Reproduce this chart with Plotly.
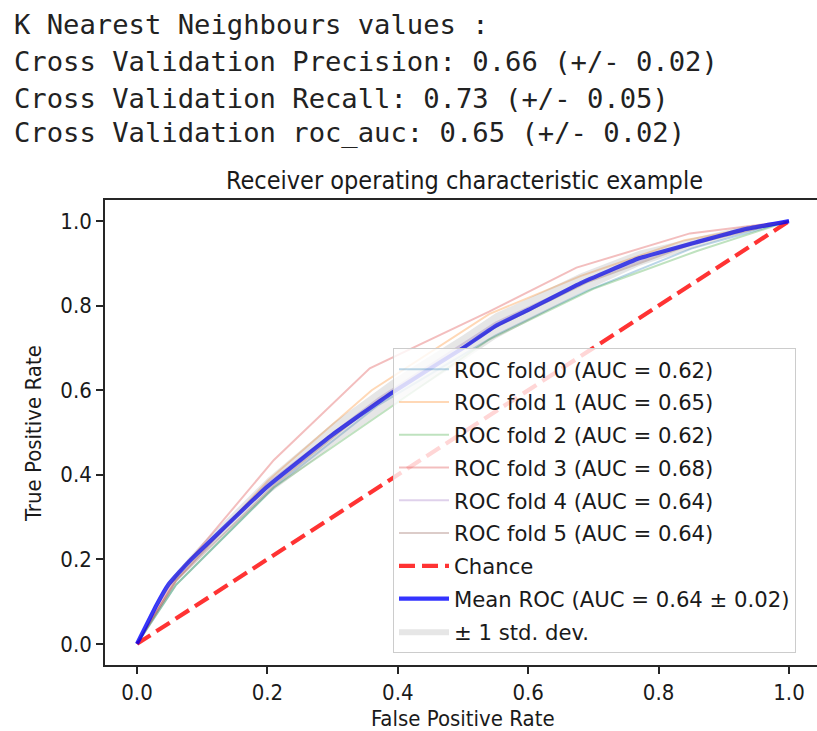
import plotly.graph_objects as go

# ---- data ----
header_lines = [
    "K Nearest Neighbours values :",
    "Cross Validation Precision: 0.66 (+/- 0.02)",
    "Cross Validation Recall: 0.73 (+/- 0.05)",
    "Cross Validation roc_auc: 0.65 (+/- 0.02)",
]

fold_names = [
    "ROC fold 0 (AUC = 0.62)",
    "ROC fold 1 (AUC = 0.65)",
    "ROC fold 2 (AUC = 0.62)",
    "ROC fold 3 (AUC = 0.68)",
    "ROC fold 4 (AUC = 0.64)",
    "ROC fold 5 (AUC = 0.64)",
]
fold0_fpr = [0.0, 0.06, 0.21, 0.37, 0.55, 0.69, 0.85, 1.0]
fold0_tpr = [0.0, 0.14, 0.37, 0.565, 0.73, 0.835, 0.935, 1.0]
fold1_fpr = [0.0, 0.06, 0.20, 0.36, 0.54, 0.68, 0.84, 1.0]
fold1_tpr = [0.0, 0.15, 0.385, 0.60, 0.78, 0.87, 0.955, 1.0]
fold2_fpr = [0.0, 0.06, 0.21, 0.38, 0.54, 0.70, 0.86, 1.0]
fold2_tpr = [0.0, 0.14, 0.37, 0.55, 0.72, 0.84, 0.93, 1.0]
fold3_fpr = [0.0, 0.06, 0.21, 0.357, 0.54, 0.674, 0.848, 1.0]
fold3_tpr = [0.0, 0.16, 0.435, 0.652, 0.786, 0.89, 0.971, 1.0]
fold4_fpr = [0.0, 0.06, 0.20, 0.37, 0.55, 0.69, 0.85, 1.0]
fold4_tpr = [0.0, 0.15, 0.38, 0.58, 0.76, 0.86, 0.95, 1.0]
fold5_fpr = [0.0, 0.06, 0.21, 0.37, 0.55, 0.69, 0.85, 1.0]
fold5_tpr = [0.0, 0.15, 0.375, 0.575, 0.75, 0.855, 0.945, 1.0]

chance_x = [0.0, 1.0]
chance_y = [0.0, 1.0]

mean_fpr = [0.0, 0.03, 0.048, 0.065, 0.08, 0.10, 0.20, 0.30, 0.39, 0.50, 0.55, 0.60, 0.68, 0.77, 0.86, 0.93, 1.0]
mean_tpr = [0.0, 0.092, 0.140, 0.170, 0.195, 0.225, 0.372, 0.495, 0.593, 0.700, 0.752, 0.790, 0.853, 0.912, 0.951, 0.980, 1.0]
band_upper = [0.0, 0.096, 0.147, 0.179, 0.205, 0.238, 0.392, 0.522, 0.623, 0.730, 0.782, 0.817, 0.876, 0.930, 0.963, 0.988, 1.0]
band_lower = [0.0, 0.088, 0.133, 0.161, 0.185, 0.212, 0.352, 0.468, 0.563, 0.670, 0.722, 0.763, 0.830, 0.894, 0.939, 0.972, 1.0]

mean_name = "Mean ROC (AUC = 0.64 \u00b1 0.02)"
band_name = "\u00b1 1 std. dev."
chance_name = "Chance"

title_text = "Receiver operating characteristic example"
x_title = "False Positive Rate"
y_title = "True Positive Rate"
tick_vals = [0.0, 0.2, 0.4, 0.6, 0.8, 1.0]
tick_text = ["0.0", "0.2", "0.4", "0.6", "0.8", "1.0"]

# ---- styles ----
fold_colors = [
    "rgba(31,119,180,0.3)",
    "rgba(255,127,14,0.3)",
    "rgba(44,160,44,0.3)",
    "rgba(214,39,40,0.3)",
    "rgba(148,103,189,0.3)",
    "rgba(140,86,75,0.3)",
]
AX_FONT = "DejaVu Sans Condensed, Liberation Sans Narrow, DejaVu Sans, sans-serif"
LEG_FONT = "DejaVu Sans, sans-serif"
MONO = "DejaVu Sans Mono, monospace"
TXT = "#1a1a1a"

folds_x = [fold0_fpr, fold1_fpr, fold2_fpr, fold3_fpr, fold4_fpr, fold5_fpr]
folds_y = [fold0_tpr, fold1_tpr, fold2_tpr, fold3_tpr, fold4_tpr, fold5_tpr]

fig = go.Figure()
for i, (fx, fy) in enumerate(zip(folds_x, folds_y)):
    fig.add_trace(go.Scatter(
        x=fx, y=fy, mode="lines", name=fold_names[i],
        line=dict(color=fold_colors[i], width=2),
        legendgroup=f"g{i}",
    ))
fig.add_trace(go.Scatter(
    x=chance_x, y=chance_y, mode="lines", name=chance_name,
    line=dict(color="rgba(255,0,0,0.8)", width=4.2, dash="16px,7px"),
    legendgroup="g6",
))
fig.add_trace(go.Scatter(
    x=mean_fpr, y=mean_tpr, mode="lines", name=mean_name,
    line=dict(color="rgba(0,0,255,0.8)", width=4.2, shape="spline", smoothing=0.3),
    legendgroup="g7",
))
fig.add_trace(go.Scatter(
    x=mean_fpr, y=band_lower, mode="lines", showlegend=False,
    line=dict(width=0, color="rgba(128,128,128,0)"), hoverinfo="skip",
    legendgroup="g8",
))
fig.add_trace(go.Scatter(
    x=mean_fpr, y=band_upper, mode="lines", name=band_name,
    line=dict(width=0, color="rgba(128,128,128,0)"),
    fill="tonexty", fillcolor="rgba(128,128,128,0.2)",
    legendgroup="g8",
))

L, R, T, B = 105, 0, 200, 66
W, H = 817, 731
pw, ph = W - L - R, H - T - B


def px_x(px):
    return (px - L) / pw


def px_y(py):
    return (H - B - py) / ph


annotations = []
for line, yc in zip(header_lines, [25, 62, 98, 133]):
    annotations.append(dict(
        text=line, xref="paper", yref="paper", x=px_x(12), y=px_y(yc),
        xanchor="left", yanchor="middle", showarrow=False,
        font=dict(family=MONO, size=27.2, color="#222222"),
    ))
annotations.append(dict(
    text=title_text, xref="paper", yref="paper", x=px_x(464), y=px_y(180),
    xanchor="center", yanchor="middle", showarrow=False,
    font=dict(family=AX_FONT, size=25, color=TXT),
))
annotations.append(dict(
    text=x_title, xref="paper", yref="paper", x=px_x(463), y=px_y(718),
    xanchor="center", yanchor="middle", showarrow=False,
    font=dict(family=AX_FONT, size=22, color=TXT),
))
annotations.append(dict(
    text=y_title, xref="paper", yref="paper", x=px_x(33), y=px_y(434),
    xanchor="center", yanchor="middle", showarrow=False, textangle=-90,
    font=dict(family=AX_FONT, size=22, color=TXT),
))

fig.update_layout(
    width=W, height=H,
    margin=dict(l=L, r=R, t=T, b=B, pad=0),
    paper_bgcolor="white", plot_bgcolor="white",
    showlegend=True,
    legend=dict(
        x=px_x(393), y=px_y(348), xanchor="left", yanchor="top",
        bgcolor="rgba(255,255,255,0.8)", bordercolor="#cccccc", borderwidth=1,
        font=dict(family=LEG_FONT, size=21.2, color=TXT),
        tracegroupgap=2.2, itemwidth=50,
        traceorder="grouped",
    ),
    annotations=annotations,
)
fig.update_xaxes(
    range=[-(137 - L) / 652, (W - R - 137) / 652],
    tickvals=tick_vals, ticktext=tick_text,
    showgrid=False, zeroline=False,
    showline=True, mirror=True, linecolor="#262626", linewidth=1.6,
    ticks="outside", ticklen=7, tickwidth=1.6, tickcolor="#262626",
    tickfont=dict(family=AX_FONT, size=22, color=TXT),
)
fig.update_yaxes(
    range=[-0.05, 1.05],
    tickvals=tick_vals, ticktext=tick_text,
    showgrid=False, zeroline=False,
    showline=True, mirror=False, linecolor="#262626", linewidth=1.6,
    ticks="outside", ticklen=7, tickwidth=1.6, tickcolor="#262626",
    tickfont=dict(family=AX_FONT, size=22, color=TXT),
)

fig.write_html("out.html")
